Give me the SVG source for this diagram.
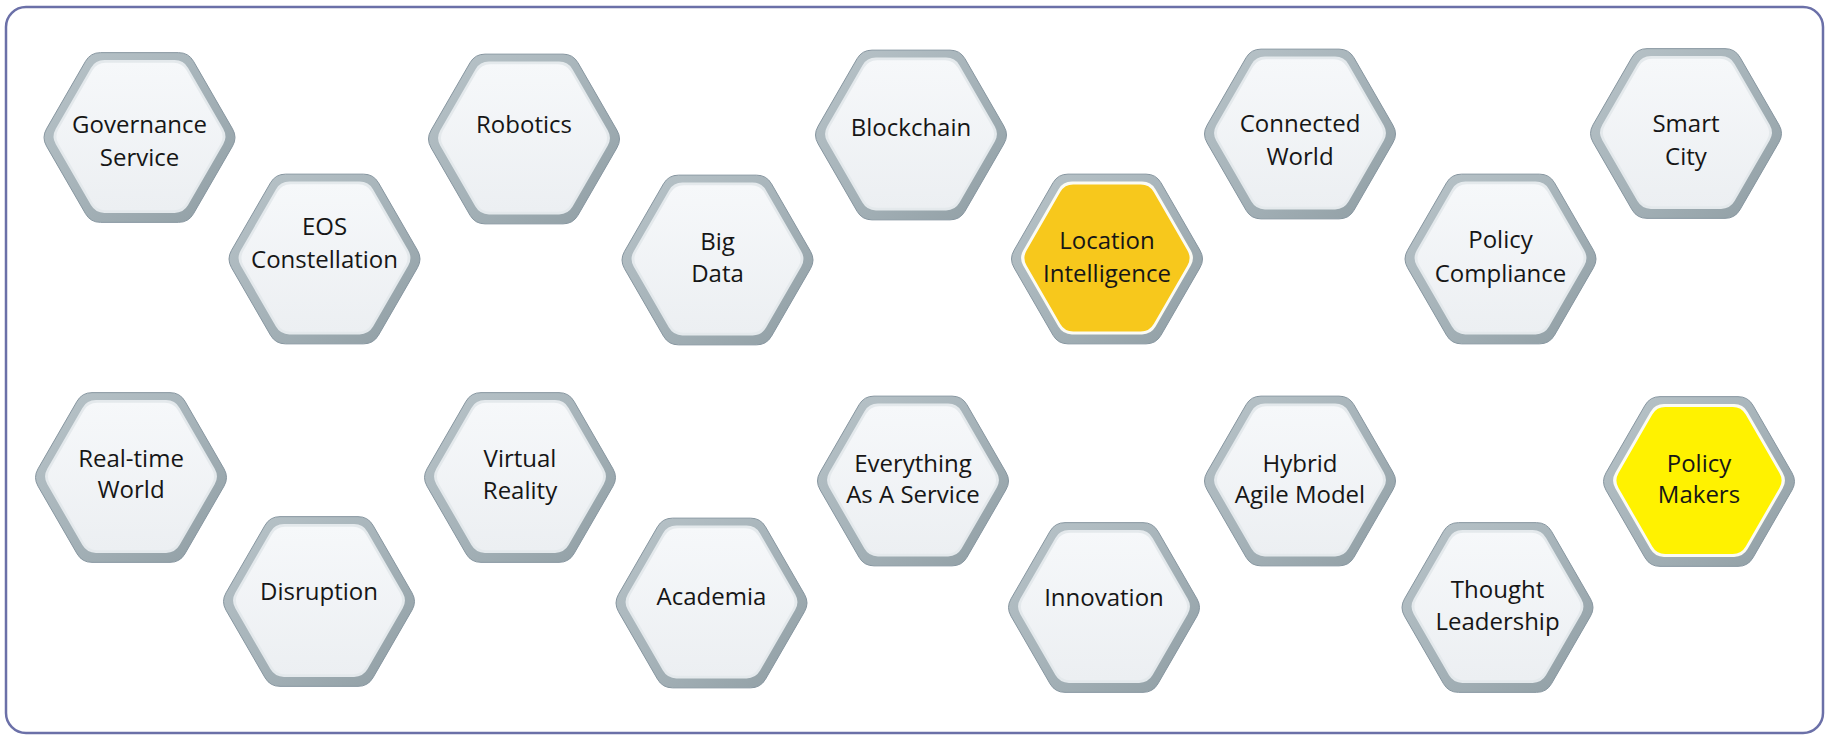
<svg xmlns="http://www.w3.org/2000/svg" xmlns:xlink="http://www.w3.org/1999/xlink" width="1829" height="737" viewBox="0 0 1829 737">
<defs>
<linearGradient id="bezel" x1="0" y1="0" x2="1" y2="1">
<stop offset="0" stop-color="#b9c4c9"/>
<stop offset="0.5" stop-color="#a6b3b9"/>
<stop offset="1" stop-color="#8f9da3"/>
</linearGradient>
<linearGradient id="face" x1="0" y1="0" x2="0" y2="1">
<stop offset="0" stop-color="#f6f8fa"/>
<stop offset="1" stop-color="#eceff2"/>
</linearGradient>
<path id="hex" d="M93,8.66 L54,76.21 Q49,84.87 39,84.87 L-39,84.87 Q-49,84.87 -54,76.21 L-93,8.66 Q-98,0 -93,-8.66 L-54,-76.21 Q-49,-84.87 -39,-84.87 L39,-84.87 Q49,-84.87 54,-76.21 L93,-8.66 Q98,0 93,8.66 Z"/>
</defs>
<style>
.bz{fill:url(#bezel);stroke:#8796a0;stroke-width:1}
.rim{fill:#e4e9ec}
.rimy{fill:#fbfbf4}
.fc{fill:url(#face)}
.y1{fill:#f7c81c}
.y2{fill:#fff200}
.lbl{font-family:"Open Sans","Noto Sans",sans-serif;font-size:24px;fill:#161616;text-anchor:middle}
</style>
<rect x="6" y="7" width="1817" height="726" rx="20" fill="#ffffff" stroke="#6b70a8" stroke-width="2.5"/>

<g id="governance-service">
<use href="#hex" class="bz" transform="translate(139.5,137.5)"/>
<use href="#hex" class="rim" transform="translate(139.5,136.5) scale(0.9)"/>
<use href="#hex" class="fc" transform="translate(139.5,136.5) scale(0.87)"/>
<text class="lbl" x="139.5" y="133">Governance</text>
<text class="lbl" x="139.5" y="166">Service</text>
</g>
<g id="eos-constellation">
<use href="#hex" class="bz" transform="translate(324.5,259)"/>
<use href="#hex" class="rim" transform="translate(324.5,258) scale(0.9)"/>
<use href="#hex" class="fc" transform="translate(324.5,258) scale(0.87)"/>
<text class="lbl" x="324.5" y="235">EOS</text>
<text class="lbl" x="324.5" y="268">Constellation</text>
</g>
<g id="robotics">
<use href="#hex" class="bz" transform="translate(524,139)"/>
<use href="#hex" class="rim" transform="translate(524,138) scale(0.9)"/>
<use href="#hex" class="fc" transform="translate(524,138) scale(0.87)"/>
<text class="lbl" x="524" y="133">Robotics</text>
</g>
<g id="big-data">
<use href="#hex" class="bz" transform="translate(717.5,260)"/>
<use href="#hex" class="rim" transform="translate(717.5,259) scale(0.9)"/>
<use href="#hex" class="fc" transform="translate(717.5,259) scale(0.87)"/>
<text class="lbl" x="717.5" y="250">Big</text>
<text class="lbl" x="717.5" y="282">Data</text>
</g>
<g id="blockchain">
<use href="#hex" class="bz" transform="translate(911,135)"/>
<use href="#hex" class="rim" transform="translate(911,134) scale(0.9)"/>
<use href="#hex" class="fc" transform="translate(911,134) scale(0.87)"/>
<text class="lbl" x="911" y="136">Blockchain</text>
</g>
<g id="location-intelligence">
<use href="#hex" class="bz" transform="translate(1107,259)"/>
<use href="#hex" class="rimy" transform="translate(1107,258) scale(0.9)"/>
<use href="#hex" class="y1" transform="translate(1107,258) scale(0.865)"/>
<text class="lbl" x="1107" y="249">Location</text>
<text class="lbl" x="1107" y="282">Intelligence</text>
</g>
<g id="connected-world">
<use href="#hex" class="bz" transform="translate(1300,134)"/>
<use href="#hex" class="rim" transform="translate(1300,133) scale(0.9)"/>
<use href="#hex" class="fc" transform="translate(1300,133) scale(0.87)"/>
<text class="lbl" x="1300" y="132">Connected</text>
<text class="lbl" x="1300" y="165">World</text>
</g>
<g id="policy-compliance">
<use href="#hex" class="bz" transform="translate(1500.5,259)"/>
<use href="#hex" class="rim" transform="translate(1500.5,258) scale(0.9)"/>
<use href="#hex" class="fc" transform="translate(1500.5,258) scale(0.87)"/>
<text class="lbl" x="1500.5" y="248">Policy</text>
<text class="lbl" x="1500.5" y="282">Compliance</text>
</g>
<g id="smart-city">
<use href="#hex" class="bz" transform="translate(1686,133.5)"/>
<use href="#hex" class="rim" transform="translate(1686,132.5) scale(0.9)"/>
<use href="#hex" class="fc" transform="translate(1686,132.5) scale(0.87)"/>
<text class="lbl" x="1686" y="132">Smart</text>
<text class="lbl" x="1686" y="165">City</text>
</g>
<g id="real-time-world">
<use href="#hex" class="bz" transform="translate(131,477.5)"/>
<use href="#hex" class="rim" transform="translate(131,476.5) scale(0.9)"/>
<use href="#hex" class="fc" transform="translate(131,476.5) scale(0.87)"/>
<text class="lbl" x="131" y="467">Real-time</text>
<text class="lbl" x="131" y="498">World</text>
</g>
<g id="disruption">
<use href="#hex" class="bz" transform="translate(319,601.5)"/>
<use href="#hex" class="rim" transform="translate(319,600.5) scale(0.9)"/>
<use href="#hex" class="fc" transform="translate(319,600.5) scale(0.87)"/>
<text class="lbl" x="319" y="600">Disruption</text>
</g>
<g id="virtual-reality">
<use href="#hex" class="bz" transform="translate(520,477.5)"/>
<use href="#hex" class="rim" transform="translate(520,476.5) scale(0.9)"/>
<use href="#hex" class="fc" transform="translate(520,476.5) scale(0.87)"/>
<text class="lbl" x="520" y="467">Virtual</text>
<text class="lbl" x="520" y="499">Reality</text>
</g>
<g id="academia">
<use href="#hex" class="bz" transform="translate(711.5,603)"/>
<use href="#hex" class="rim" transform="translate(711.5,602) scale(0.9)"/>
<use href="#hex" class="fc" transform="translate(711.5,602) scale(0.87)"/>
<text class="lbl" x="711.5" y="605">Academia</text>
</g>
<g id="everything-as-a-service">
<use href="#hex" class="bz" transform="translate(913,481)"/>
<use href="#hex" class="rim" transform="translate(913,480) scale(0.9)"/>
<use href="#hex" class="fc" transform="translate(913,480) scale(0.87)"/>
<text class="lbl" x="913" y="472">Everything</text>
<text class="lbl" x="913" y="503">As A Service</text>
</g>
<g id="innovation">
<use href="#hex" class="bz" transform="translate(1104,607.5)"/>
<use href="#hex" class="rim" transform="translate(1104,606.5) scale(0.9)"/>
<use href="#hex" class="fc" transform="translate(1104,606.5) scale(0.87)"/>
<text class="lbl" x="1104" y="606">Innovation</text>
</g>
<g id="hybrid-agile-model">
<use href="#hex" class="bz" transform="translate(1300,481)"/>
<use href="#hex" class="rim" transform="translate(1300,480) scale(0.9)"/>
<use href="#hex" class="fc" transform="translate(1300,480) scale(0.87)"/>
<text class="lbl" x="1300" y="472">Hybrid</text>
<text class="lbl" x="1300" y="503">Agile Model</text>
</g>
<g id="thought-leadership">
<use href="#hex" class="bz" transform="translate(1497.5,607.5)"/>
<use href="#hex" class="rim" transform="translate(1497.5,606.5) scale(0.9)"/>
<use href="#hex" class="fc" transform="translate(1497.5,606.5) scale(0.87)"/>
<text class="lbl" x="1497.5" y="598">Thought</text>
<text class="lbl" x="1497.5" y="630">Leadership</text>
</g>
<g id="policy-makers">
<use href="#hex" class="bz" transform="translate(1699,481.5)"/>
<use href="#hex" class="rimy" transform="translate(1699,480.5) scale(0.9)"/>
<use href="#hex" class="y2" transform="translate(1699,480.5) scale(0.865)"/>
<text class="lbl" x="1699" y="472">Policy</text>
<text class="lbl" x="1699" y="503">Makers</text>
</g>
<g id="connectors"/>
</svg>
